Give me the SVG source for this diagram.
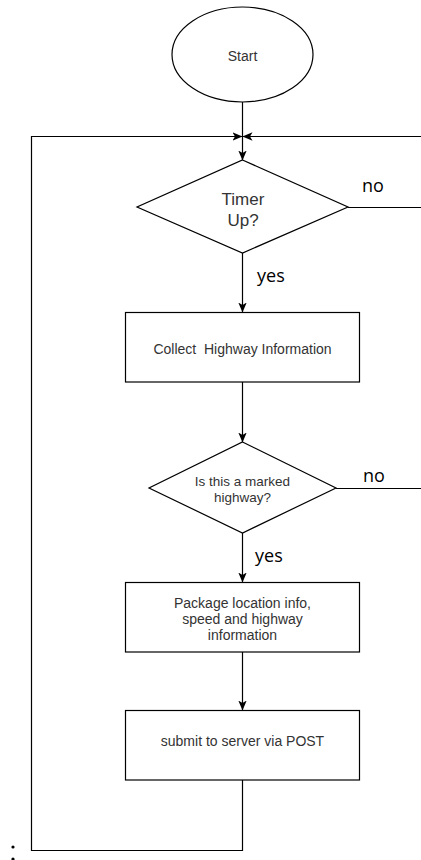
<svg xmlns="http://www.w3.org/2000/svg" width="421" height="860" viewBox="0 0 421 860">
<defs>
<marker id="arr" markerUnits="userSpaceOnUse" markerWidth="10" markerHeight="10" viewBox="0 0 10 10" refX="9.5" refY="5" orient="auto">
<path d="M0,0.8 L10,5 L0,9.2 L2.5,5 Z" fill="#000"/>
</marker>
</defs>
<style>
.shape{fill:#fff;stroke:#000;stroke-width:1.2}
.conn{fill:none;stroke:#000;stroke-width:1.2}
.nt{font-family:"Liberation Sans",Arial,sans-serif;font-size:14px;fill:#333;text-anchor:middle}
.lbl{font-family:"Open Sans","Liberation Sans",sans-serif;font-size:18px;fill:#000}
</style>
<rect width="421" height="860" fill="#fff"/>
<g id="connectors">
<path class="conn" d="M242.5,102 V160" marker-end="url(#arr)"/>
<path class="conn" d="M242.5,780 V850.5 H31.5 V136.5 H242" marker-end="url(#arr)"/>
<path class="conn" d="M348,207.5 H430 V136.5 H243" marker-end="url(#arr)"/>
<path class="conn" d="M336,488.5 H430"/>
<path class="conn" d="M242.5,253 V312" marker-end="url(#arr)"/>
<path class="conn" d="M242.5,382 V442" marker-end="url(#arr)"/>
<path class="conn" d="M242.5,533 V582" marker-end="url(#arr)"/>
<path class="conn" d="M242.5,652 V710" marker-end="url(#arr)"/>
<text class="lbl" x="362" y="192">no</text>
<text class="lbl" x="257" y="282">yes</text>
<text class="lbl" x="363" y="482">no</text>
<text class="lbl" x="255" y="562">yes</text>
</g>
<g id="start">
<ellipse class="shape" cx="242.5" cy="54.5" rx="70.5" ry="47.5"/>
<text class="nt" x="242.5" y="61">Start</text>
</g>
<g id="timer">
<polygon class="shape" points="242.5,160 348,207 242.5,253 137,207"/>
<text class="nt" style="font-size:17px" x="243" y="205">Timer</text>
<text class="nt" style="font-size:17px" x="243" y="226">Up?</text>
</g>
<g id="collect">
<rect class="shape" x="125.5" y="312.5" width="234" height="69.5"/>
<text class="nt" x="242.5" y="354" xml:space="preserve">Collect  Highway Information</text>
</g>
<g id="marked">
<polygon class="shape" points="242.5,442 336,488 242.5,533 149,488"/>
<text class="nt" style="font-size:13.5px" x="242.5" y="486">Is this a marked</text>
<text class="nt" style="font-size:13.5px" x="242.5" y="502">highway?</text>
</g>
<g id="package">
<rect class="shape" x="125.5" y="582.5" width="234" height="69.5"/>
<text class="nt" x="242.5" y="608">Package location info,</text>
<text class="nt" x="242.5" y="624">speed and highway</text>
<text class="nt" x="242.5" y="640">information</text>
</g>
<g id="submit">
<rect class="shape" x="125.5" y="710.5" width="234" height="69.5"/>
<text class="nt" x="242.5" y="746">submit to server via POST</text>
</g>
<g id="marks">
<circle cx="13" cy="847" r="1.6" fill="#000"/>
<circle cx="13" cy="859" r="1.6" fill="#000"/>
</g>
</svg>
